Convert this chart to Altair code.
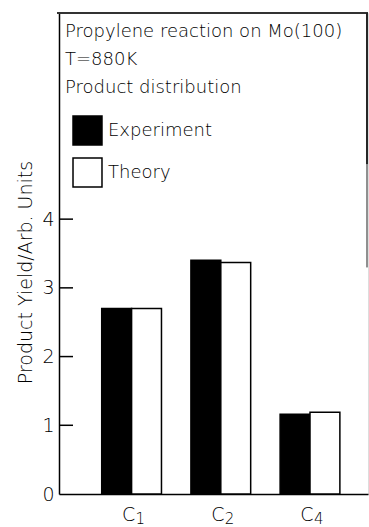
import altair as alt
import pandas as pd

products = ["C1", "C2", "C4"]
subscripts = ["1", "2", "4"]
experiment = [2.70, 3.40, 1.16]
theory = [2.70, 3.37, 1.19]
series_names = ["Experiment", "Theory"]
tick_values = [1, 2, 3, 4]
title_lines = ["Propylene reaction on Mo(100)", "T=880K", "Product distribution"]

FONT = "DejaVu Sans Light"

rows = []
for p, e, t in zip(products, experiment, theory):
    rows.append({"product": p, "series": "Experiment", "value": e})
    rows.append({"product": p, "series": "Theory", "value": t})
df = pd.DataFrame(rows)
cats = pd.DataFrame({"product": products, "sub": subscripts})
ticks = pd.DataFrame({"v": tick_values})

W, H = 309, 481
xscale = alt.Scale(domain=products, paddingInner=0.33, paddingOuter=0.397, align=0.603)
yscale = alt.Scale(domain=[0, 7], nice=False, zero=True)

bars = alt.Chart(df).mark_bar(stroke="black", strokeWidth=1.5).encode(
    x=alt.X("product:N", scale=xscale,
            axis=alt.Axis(labels=False, ticks=False, title=None, domainColor="black",
                          domainWidth=1.5, grid=False)),
    xOffset=alt.XOffset("series:N", scale=alt.Scale(domain=series_names, paddingInner=0, paddingOuter=0)),
    y=alt.Y("value:Q", scale=yscale,
            axis=alt.Axis(values=[0, 1, 2, 3, 4], format="d", ticks=False, grid=False,
                          domainColor="black", domainWidth=1.5, labelFont=FONT,
                          labelFontSize=19, labelPadding=5, labelColor="black",
                          title="Product Yield/Arb. Units",
                          titleFont=FONT, titleFontSize=19, titleFontWeight="normal",
                          titleColor="black", titleX=-28, titleY=259, titleAlign="center",
                          titleBaseline="alphabetic", titleAngle=270)),
    fill=alt.Fill("series:N", scale=alt.Scale(domain=series_names, range=["black", "white"]),
                  legend=alt.Legend(orient="none", legendX=6, legendY=10,
                                    title=title_lines, titleFont=FONT, titleFontSize=18,
                                    titleFontWeight="normal", titleColor="black",
                                    titleLineHeight=28, titlePadding=18, titleLimit=400,
                                    symbolType="square", symbolSize=840,
                                    symbolStrokeColor="black", symbolStrokeWidth=1.5,
                                    symbolOffset=7, labelFont=FONT, labelFontSize=18,
                                    labelColor="black", labelOffset=5, rowPadding=7,
                                    padding=0)),
)

tick_rules = alt.Chart(ticks).mark_rule(color="black", strokeWidth=1.5).encode(
    y=alt.Y("v:Q", scale=yscale), x=alt.value(0), x2=alt.value(14)
)

top_border = alt.Chart(ticks).mark_rule(color="#333", strokeWidth=1.5).encode(
    y=alt.datum(7), x=alt.value(-2), x2=alt.value(W)
)
right_border1 = alt.Chart(ticks).mark_rule(color="#222", strokeWidth=1.2).encode(
    x=alt.value(W - 1), y=alt.datum(7), y2=alt.datum(4.8)
)
right_border2 = alt.Chart(ticks).mark_rule(color="#888", strokeWidth=1.0).encode(
    x=alt.value(W - 1), y=alt.datum(4.8), y2=alt.datum(3.3)
)

c_text = alt.Chart(cats).mark_text(font=FONT, fontSize=19, baseline="top", align="center",
                                   dx=-3, dy=12, color="black").encode(
    x=alt.X("product:N", scale=xscale), y=alt.datum(0), text=alt.value("C")
)
sub_text = alt.Chart(cats).mark_text(font=FONT, fontSize=15, baseline="top", align="left",
                                     dx=4, dy=18, color="black").encode(
    x=alt.X("product:N", scale=xscale), y=alt.datum(0), text="sub:N"
)

chart = alt.layer(bars, tick_rules, top_border, right_border1, right_border2, c_text, sub_text).properties(
    width=W, height=H,
    autosize=alt.AutoSizeParams(type="none"),
    padding={"left": 59, "top": 13, "right": 1, "bottom": 33},
).configure_view(stroke=None).configure(background="white")

chart.save("out.html", embed_options={"renderer": "svg", "actions": False})
